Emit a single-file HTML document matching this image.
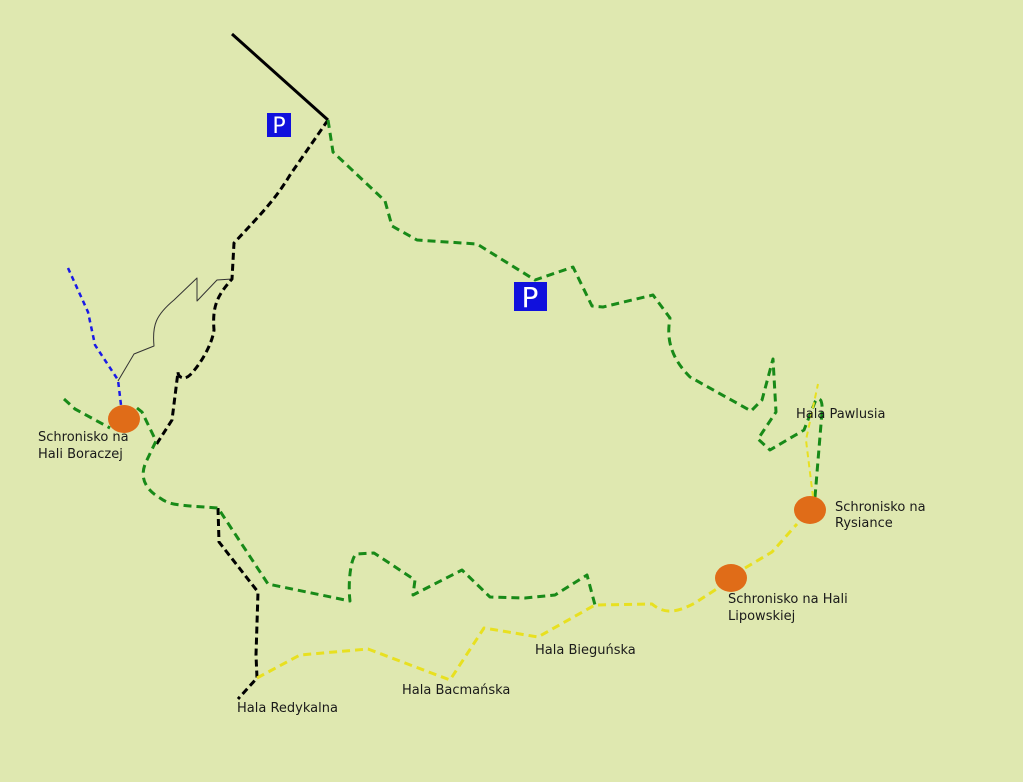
<!DOCTYPE html>
<html><head><meta charset="utf-8"><style>
html,body{margin:0;padding:0;background:#dfe8b0;}
svg{display:block}
text{font-family:"DejaVu Sans","Liberation Sans",sans-serif;font-size:13px;fill:#1a1a1a}
</style></head><body>
<svg width="1023" height="782" viewBox="0 0 1023 782" xmlns="http://www.w3.org/2000/svg">
<rect width="1023" height="782" fill="#dfe8b0"/>
<g fill="none" stroke-linejoin="round">
<!-- black solid -->
<path d="M232,34 L328,120" stroke="#000" stroke-width="3"/>
<!-- thin black -->
<path d="M118,381 L134,354 L154,346 C152,325 156,315 174,300 L197,278 L197,301 L217,280 L232,279" stroke="#333" stroke-width="1"/>
<!-- black dashed -->
<path d="M328,120 L290,175 C275,200 260,215 234,243 L232,279 C218,295 212,305 214,330 C212,345 200,365 190,375 C185,380 178,378 178,372 L172,420 L156,445" stroke="#000" stroke-width="3" stroke-dasharray="7,4"/>
<path d="M218,508 L219,542 L258,592 L256,655 L257,678 L238,699" stroke="#000" stroke-width="3" stroke-dasharray="7,4"/>
<!-- blue -->
<path d="M68,268 L88,312 L95,345 L118,380 L121,405" stroke="#1a1ae6" stroke-width="2.5" stroke-dasharray="5,4"/>
<!-- green -->
<path d="M64,399 L75,409 L110,428" stroke="#188a18" stroke-width="3" stroke-dasharray="8,5"/>
<path d="M137,408 L142,412 L156,441 L146,462 C140,475 143,488 160,498 C170,505 175,505 218,508 L268,584 L350,601 C348,585 350,560 356,554 L374,553 L415,580 L413,595 L462,570 L490,597 L525,598 L555,595 L587,575 L595,605" stroke="#188a18" stroke-width="3" stroke-dasharray="8,5"/>
<path d="M328,120 L333,152 L385,201 L392,226 L417,240 L477,244 L535,280 L573,267 L592,306 L603,307 L653,295 L670,318 C667,335 668,355 690,377 L751,411 L762,400 L773,359 L776,412 L758,439 L770,450 L804,430 L815,402 C819,395 823,400 822,412 L815,497" stroke="#188a18" stroke-width="3" stroke-dasharray="8,5"/>
<!-- yellow -->
<path d="M257,678 L300,655 L368,649 L450,680 L484,628 L538,637 L595,605 L652,604 C665,615 678,612 695,603 L718,588" stroke="#e8e020" stroke-width="3" stroke-dasharray="8,5"/>
<path d="M745,568 L772,552 L797,524" stroke="#e8e020" stroke-width="3" stroke-dasharray="8,5"/>
<path d="M813,497 L806,440 L818,384" stroke="#e8e020" stroke-width="2" stroke-dasharray="6,4"/>
</g>
<!-- huts -->
<ellipse cx="124" cy="419" rx="16" ry="14" fill="#e06c18"/>
<ellipse cx="810" cy="510" rx="16" ry="14" fill="#e06c18"/>
<ellipse cx="731" cy="578" rx="16" ry="14" fill="#e06c18"/>
<!-- parking -->
<rect x="267" y="113" width="24" height="24" fill="#1010dd"/>
<text x="279" y="133" text-anchor="middle" style="font-size:22px;fill:#fff">P</text>
<rect x="514" y="282" width="33" height="29" fill="#1010dd"/>
<text x="530" y="307" text-anchor="middle" style="font-size:28px;fill:#fff">P</text>
<!-- labels -->
<text x="38" y="441">Schronisko na</text>
<text x="38" y="458">Hali Boraczej</text>
<text x="796" y="418">Hala Pawlusia</text>
<text x="835" y="511">Schronisko na</text>
<text x="835" y="527">Rysiance</text>
<text x="728" y="603">Schronisko na Hali</text>
<text x="728" y="620">Lipowskiej</text>
<text x="535" y="654">Hala Bieguńska</text>
<text x="402" y="694">Hala Bacmańska</text>
<text x="237" y="712">Hala Redykalna</text>
</svg>
</body></html>
